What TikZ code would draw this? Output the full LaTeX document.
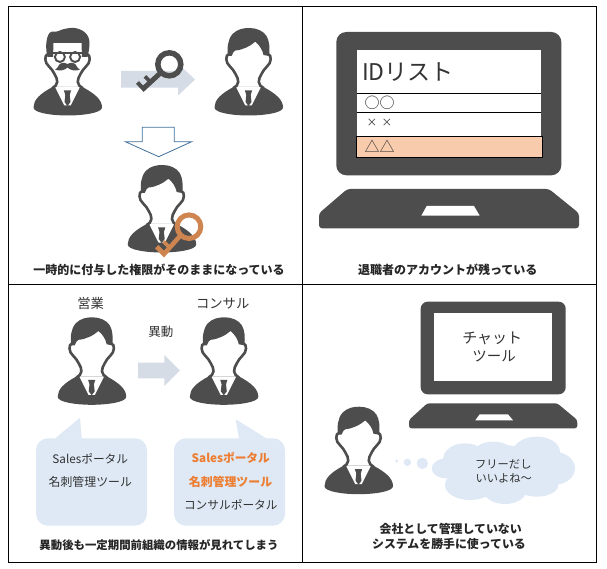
\documentclass[tikz,border=0pt]{standalone}
\usepackage{fontspec}
\setmainfont{Noto Sans CJK JP}
\newcommand{\fsz}[1]{\fontsize{#1}{#1}\selectfont}
\definecolor{ink}{HTML}{4D4D4D}
\definecolor{paleblue}{HTML}{DEE9F5}
\definecolor{arrowgrey}{HTML}{D6DCE5}
\definecolor{keyorange}{HTML}{CF8550}
\definecolor{hiorange}{HTML}{ED7D31}
\definecolor{peach}{HTML}{F8CBAD}
\definecolor{outlineblue}{HTML}{41719C}
\definecolor{txt}{HTML}{333333}
\tikzset{
  caption/.style={inner sep=0pt,align=center,text=black!85,font=\bfseries\fsz{#1}},
  label/.style={inner sep=0pt,align=center,text=txt,font=\fsz{#1}},
  hilabel/.style={inner sep=0pt,text=hiorange,font=\bfseries\fsz{#1}},
  neckline/.pic={
    \draw[ink,line width=2.6pt,line cap=round]
      (-19.5,26) .. controls (-23.5,27) and (-23,35) .. (-18.5,38.5)
      .. controls (-16,41) and (-14.5,43) .. (-13,46)
      .. controls (-11.5,49) and (-10,51) .. (-10.3,54)
      .. controls (-10.5,57) and (-12.5,58.5) .. (-15,60);
  },
  torso/.pic={
    \fill[ink] (-34,79.5) .. controls (-34,72) and (-28,66) .. (-15,59) -- (15,59)
      .. controls (28,66) and (34.5,72) .. (34.5,79.5)
      .. controls (34.5,85) and (15,87.5) .. (0,87.5)
      .. controls (-15,87.5) and (-34,85) .. (-34,79.5) -- cycle;
    \fill[white] (-12.5,59) -- (12.5,59) -- (3.2,77.5) -- (-3.2,77.5) -- cycle;
    \fill[ink] (-3.6,62.5) -- (3.6,62.5) -- (2.2,67) -- (3,74) -- (0,78)
      -- (-3,74) -- (-2.2,67) -- cycle;
    \pic {neckline};
    \pic[xscale=-1] {neckline};
  },
  person/.pic={
    \pic {torso};
    \fill[ink] (-20.5,28) .. controls (-21.5,20) and (-21,12) .. (-16,6)
      .. controls (-11,1) and (-5,0) .. (1,0)
      .. controls (8,0) and (15,3) .. (18,8)
      .. controls (21,13) and (21.5,20) .. (20.5,28)
      -- (15,27) .. controls (14,22) and (11,17) .. (6.7,13.7)
      .. controls (2,18) and (-6,22) .. (-13,22.5)
      -- (-15,24) -- (-17,28) -- cycle;
  },
  elder/.pic={
    \pic {torso};
    \fill[ink] (-20,29) .. controls (-22,22) and (-22,10) .. (-18,5)
      .. controls (-15,2) and (-13,5) .. (-9,3)
      .. controls (-5,1) and (2,-0.5) .. (7,0)
      .. controls (15,1) and (22,6) .. (22,15)
      .. controls (22,20) and (21,25) .. (20,29)
      -- (14.5,29) -- (14,15) -- (-14,15) -- (-14.5,29) -- cycle;
    \draw[ink,line width=1.9pt] (-7.6,29) circle[radius=5] (7.6,29) circle[radius=5];
    \draw[ink,line width=2pt] (-16,25) -- (16,25);
    \fill[ink] (0,36) .. controls (-4,33.5) and (-8,35) .. (-9,38)
      .. controls (-10,40) and (-11,41) .. (-12.5,41.5)
      .. controls (-8,43.5) and (-3,42.5) .. (0,39.5)
      .. controls (3,42.5) and (8,43.5) .. (12.5,41.5)
      .. controls (11,41) and (10,40) .. (9,38)
      .. controls (8,35) and (4,33.5) .. (0,36) -- cycle;
  },
}
\begin{document}
\begin{tikzpicture}[x=1pt,y=-1pt]
\useasboundingbox (0,0) rectangle (607,569);
\fill[white] (0,0) rectangle (607,569);

% top-left panel: a temporary permission that stayed in place
\pic at (67.5,28) {elder};
\pic at (248.5,28) {person};
\fill[arrowgrey] (121,71) -- (178,71) -- (178,63.5) -- (195,79.5) -- (178,95.5) -- (178,87.7) -- (121,87.7) -- cycle;
\draw[ink,line width=5.5pt] (169.3,64.3) circle[radius=11.5];
\draw[ink,line width=5pt] (161,72.5) -- (143,89);
\draw[ink,line width=4pt] (145,90.5) -- (137.5,82.5);
\draw[ink,line width=3.6pt] (150.5,82) -- (145,76.5);
\draw[outlineblue,fill=white,line width=0.8pt]
  (142.3,127.3) -- (174.3,127.3) -- (174.3,141.7) -- (191.7,141.7) -- (158.7,156.7)
  -- (125.3,141.7) -- (142.3,141.7) -- cycle;
\pic at (161.7,165) {person};
\draw[keyorange,line width=5pt] (189,226.7) circle[radius=11.8];
\draw[keyorange,line width=4.6pt,line join=miter] (156.7,246.7) -- (164,254) -- (180.5,235.5);
\draw[keyorange,line width=3.6pt] (163.5,241.5) -- (169,247);
\node[caption=12] (capA) at (159,270) {一時的に付与した権限がそのままになっている};

% top-right panel: the leaver's account is still on the ID list
\fill[ink,rounded corners=10pt] (336.3,32) rectangle (561.3,175.3);
\fill[white] (357.3,50) rectangle (540.7,157);
\draw[black,line width=0.8pt] (357.3,93.3) -- (540.7,93.3) (357.3,112.3) -- (540.7,112.3);
\draw[black,fill=peach,line width=0.9pt] (356.3,136.3) rectangle (542.7,157.3);
\node[label=23,anchor=west] (idlist) at (362,72) {IDリスト};
\node[label=15,anchor=west] (rowA) at (364.5,102.5) {○○};
\node[label=10.7,anchor=west] (rowB) at (366.5,123) {×\hspace{4.3pt}×};
\node[label=15,anchor=west] (rowC) at (364.5,146) {△△};
\fill[ink,rounded corners=3pt] (347.3,189) -- (549,189) -- (579,213.3) -- (579,228.3) -- (319,228.3) -- (319,213.3) -- cycle;
\fill[white] (426.7,206) -- (474,206) -- (479.7,215.7) -- (421.3,215.7) -- cycle;
\node[caption=12] (capB) at (447.7,270) {退職者のアカウントが残っている};

% bottom-left panel: access kept after a transfer
\node[label=13.3] (sales) at (90.7,303.3) {営業};
\node[label=13.3] (consul) at (222.7,303.3) {コンサル};
\node[label=12.5] (move) at (160.8,332.3) {異動};
\pic at (91.7,317.3) {person};
\pic at (223.8,317.3) {person};
\fill[arrowgrey] (138,362.7) -- (164.3,362.7) -- (164.3,355) -- (180,370.5) -- (164.3,386) -- (164.3,378.3) -- (138,378.3) -- cycle;
\fill[paleblue,rounded corners=12pt] (36,438.3) rectangle (147,525.7);
\fill[paleblue] (55,438.6) -- (80,417.7) -- (81.7,438.6) -- cycle;
\fill[paleblue,rounded corners=12pt] (174,438.3) rectangle (285,525.7);
\fill[paleblue] (266.7,438.6) -- (235.7,419.3) -- (239,438.6) -- cycle;
\node[label=11.7] (oldA) at (90.3,458.3) {Salesポータル};
\node[label=11.9] (oldB) at (90.3,481.7) {名刺管理ツール};
\node[hilabel=11.7] (newA) at (230.8,458.3) {Salesポータル};
\node[hilabel=11.9] (newB) at (230.5,481.7) {名刺管理ツール};
\node[label=11.7] (newC) at (230.8,504.3) {コンサルポータル};
\node[caption=11.4] (capC) at (159,545) {異動後も一定期間前組織の情報が見れてしまう};

% bottom-right panel: an unmanaged chat tool in private use
\fill[ink,rounded corners=7pt] (420.7,301.7) rectangle (565.7,394.3);
\fill[white] (433.7,313.3) rectangle (552.3,380.7);
\node[label=15] (chatA) at (492.3,338.3) {チャット};
\node[label=14.5] (chatB) at (494,356.7) {ツール};
\fill[ink,rounded corners=2.5pt] (427.3,403.3) -- (557.3,403.3) -- (577.3,420) -- (577.3,428.3) -- (409,428.3) -- (409,420) -- cycle;
\fill[white] (479.7,414.3) -- (508,414.3) -- (513,420.3) -- (475.3,420.3) -- cycle;
\pic at (358.5,406.7) {person};
\begin{scope}[shift={(390,435)},scale=1/3]
  \fill[paleblue]
    (97,85) circle[radius=17] (52,82) circle[radius=11] (20,78) circle[radius=5]
    (225,70) ellipse[x radius=65,y radius=45]
    (310,55) ellipse[x radius=60,y radius=35]
    (440,50) ellipse[x radius=70,y radius=45]
    (490,100) ellipse[x radius=65,y radius=50]
    (440,150) ellipse[x radius=65,y radius=35]
    (345,165) ellipse[x radius=65,y radius=42]
    (240,150) ellipse[x radius=75,y radius=45]
    (170,100) ellipse[x radius=45,y radius=30]
    (330,100) ellipse[x radius=150,y radius=70];
\end{scope}
\node[label=11.3] (thinkA) at (503.3,464.3) {フリーだし};
\node[label=11.3] (thinkB) at (503.8,478.3) {いいよね〜};
\node[caption=11.9] (capD1) at (450.7,529.3) {会社として管理していない};
\node[caption=11.9] (capD2) at (449,544) {システムを勝手に使っている};

% panel frame
\draw[black,line width=1pt] (8.3,6.5) rectangle (596,562.5);
\draw[black,line width=1pt] (302.7,6.5) -- (302.7,562.5) (8.3,284) -- (596,284);
\end{tikzpicture}
\end{document}
